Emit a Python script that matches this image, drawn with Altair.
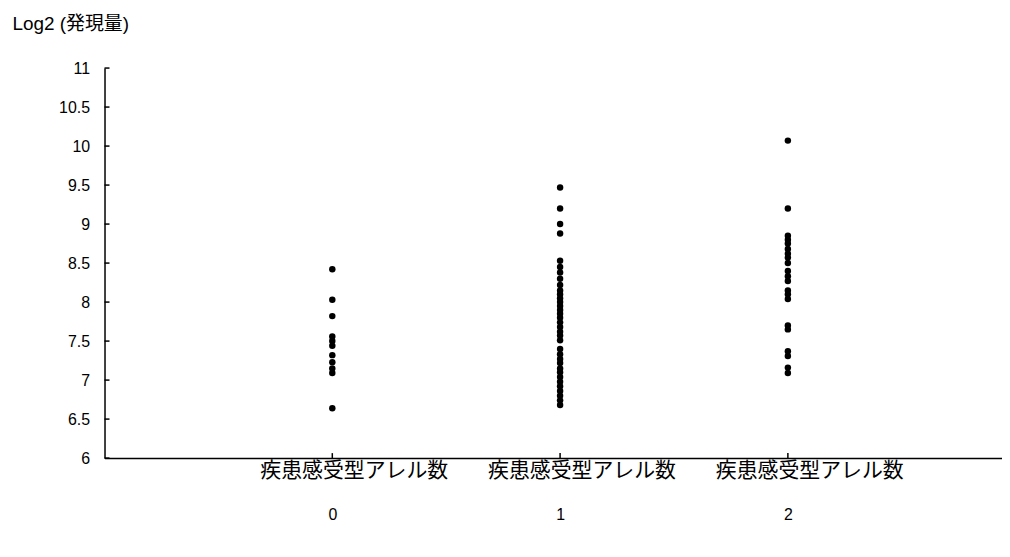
import altair as alt
import pandas as pd

# Data
group_values = [0, 1, 2]
category_name = "疾患感受型アレル数"
y_title = "Log2 (発現量)"
y_ticks = [6, 6.5, 7, 7.5, 8, 8.5, 9, 9.5, 10, 10.5, 11]

vals_0 = [8.42, 8.03, 7.82, 7.56, 7.50, 7.44, 7.32, 7.23, 7.15, 7.09, 6.64]
vals_1 = [9.47, 9.20, 9.00, 8.88, 8.53, 8.45, 8.38, 8.30, 8.22, 8.15, 8.10,
          8.05, 8.00, 7.95, 7.90, 7.85, 7.80, 7.74, 7.68, 7.62, 7.57, 7.51,
          7.40, 7.33, 7.27, 7.22, 7.15, 7.10, 7.04, 6.98, 6.92, 6.86, 6.80,
          6.74, 6.68]
vals_2 = [10.07, 9.20, 8.85, 8.80, 8.75, 8.68, 8.62, 8.57, 8.50, 8.40, 8.33,
          8.27, 8.15, 8.10, 8.04, 7.70, 7.65, 7.37, 7.31, 7.16, 7.09]

rows = []
for g, vals in zip(group_values, [vals_0, vals_1, vals_2]):
    for v in vals:
        rows.append({"group": g, "value": v})
points_df = pd.DataFrame(rows)
groups_df = pd.DataFrame({"group": group_values, "name": [category_name] * 3})
yticks_df = pd.DataFrame({"value": y_ticks})

W, H = 902, 392
latin = "Liberation Sans, Noto Sans CJK JP"
cjk = "Noto Sans CJK JP"

xscale = alt.Scale(domain=[-1, 2.94], nice=False, zero=False)
yscale = alt.Scale(domain=[6, 11], nice=False, zero=False)

x_axis = alt.Axis(values=group_values, format="d", ticks=False, grid=False,
                  title=None, labelFontSize=16, labelFont=latin,
                  labelColor="black", labelPadding=49,
                  domainColor="black", domainWidth=1.5)
y_axis = alt.Axis(values=y_ticks, format="~g", ticks=False, grid=False,
                  labelFontSize=16, labelFont=latin, labelColor="black",
                  labelPadding=15, domainColor="black", domainWidth=1.5,
                  title=y_title, titleAngle=0, titleX=-93, titleY=-45,
                  titleAlign="left", titleBaseline="middle",
                  titleFont=latin, titleFontSize=19,
                  titleFontWeight="normal", titleColor="black")

points = alt.Chart(points_df).mark_circle(size=42, color="black", opacity=1).encode(
    x=alt.X("group:Q", scale=xscale, axis=x_axis),
    y=alt.Y("value:Q", scale=yscale, axis=y_axis),
)

yticks = alt.Chart(yticks_df).mark_rule(color="black", strokeWidth=1.5).encode(
    y=alt.Y("value:Q", scale=yscale, axis=y_axis),
    x=alt.value(0), x2=alt.value(5),
)

xticks = alt.Chart(groups_df).mark_rule(color="black", strokeWidth=1.5).encode(
    x=alt.X("group:Q", scale=xscale, axis=x_axis),
    y=alt.value(H - 5), y2=alt.value(H),
)

names = alt.Chart(groups_df).mark_text(
    font=cjk, fontSize=21, color="black", baseline="middle", align="center", dx=22
).encode(
    x=alt.X("group:Q", scale=xscale, axis=x_axis),
    y=alt.value(H + 13),
    text="name:N",
)

chart = alt.layer(points, yticks, xticks, names).properties(
    width=W, height=H,
    background="white",
    autosize=alt.AutoSizeParams(type="none"),
    padding={"left": 97, "top": 59, "right": 0, "bottom": 90},
).configure_view(stroke=None)

chart.save("out.html", embed_options={"renderer": "svg", "actions": False})
